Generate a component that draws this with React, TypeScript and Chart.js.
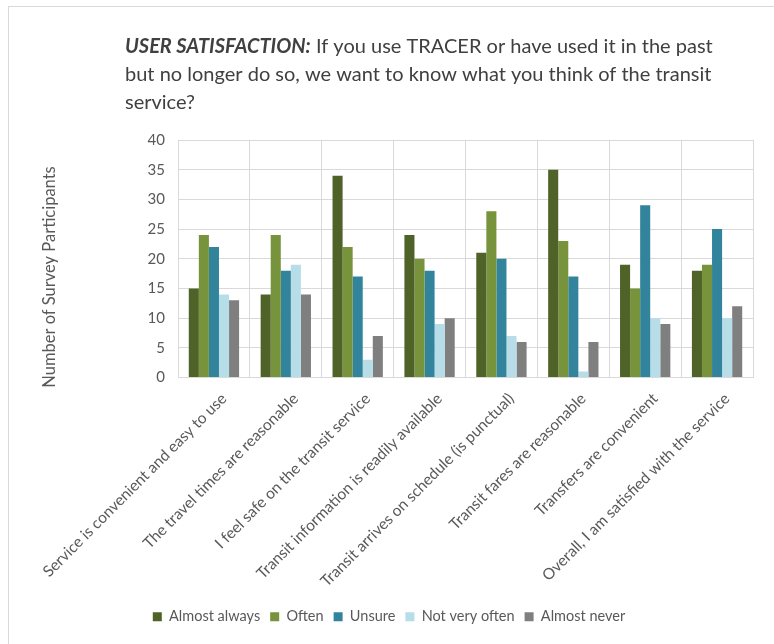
import React, { useEffect, useRef } from "react";
import { Chart, registerables } from "chart.js";

Chart.register(...registerables);

const categories = [
  "Service is convenient and easy to use",
  "The travel times are reasonable",
  "I feel safe on the transit service",
  "Transit information is readily available",
  "Transit arrives on schedule (is punctual)",
  "Transit fares are reasonable",
  "Transfers are convenient",
  "Overall, I am satisfied with the service",
];

const seriesNames = ["Almost always", "Often", "Unsure", "Not very often", "Almost never"];
const almostAlways = [15, 14, 34, 24, 21, 35, 19, 18];
const often = [24, 24, 22, 20, 28, 23, 15, 19];
const unsure = [22, 18, 17, 18, 20, 17, 29, 25];
const notVeryOften = [14, 19, 3, 9, 7, 1, 10, 10];
const almostNever = [13, 14, 7, 10, 6, 6, 9, 12];
const seriesColors = ["#4f6228", "#77933c", "#31849b", "#b7dee8", "#7f7f7f"];

const titleBold = "USER SATISFACTION:";
const titleLines = [
  " If you use TRACER or have used it in the past",
  "but no longer do so, we want to know what you think of the transit",
  "service?",
];
const yAxisTitle = "Number of Survey Participants";
const yTicks = { min: 0, max: 40, step: 5 };

const FONT = "Lato, 'Open Sans', sans-serif";
const TEXT = "#595959";

const textPlugin = {
  id: "customText",
  afterDraw(chart: any) {
    const ctx = chart.ctx;
    ctx.save();
    ctx.fillStyle = "#404040";
    ctx.textBaseline = "alphabetic";
    ctx.textAlign = "left";
    const x0 = 125;
    const base = 53;
    const lh = 28;
    ctx.font = `italic bold 20px ${FONT}`;
    ctx.fillText(titleBold, x0, base);
    const w = ctx.measureText(titleBold).width;
    ctx.font = `20px ${FONT}`;
    ctx.fillText(titleLines[0], x0 + w, base);
    for (let i = 1; i < titleLines.length; i++) {
      ctx.fillText(titleLines[i], x0, base + lh * i);
    }
    // y axis title
    ctx.translate(50, 277);
    ctx.rotate(-Math.PI / 2);
    ctx.textAlign = "center";
    ctx.textBaseline = "middle";
    ctx.fillStyle = TEXT;
    ctx.font = `16.5px ${FONT}`;
    ctx.fillText(yAxisTitle, 0, 0);
    ctx.restore();
  },
};

export default function App() {
  const ref = useRef<HTMLCanvasElement | null>(null);
  useEffect(() => {
    if (!ref.current) return;
    const values = [almostAlways, often, unsure, notVeryOften, almostNever];
    const chart = new Chart(ref.current, {
      type: "bar",
      data: {
        labels: categories,
        datasets: seriesNames.map((name, i) => ({
          label: name,
          data: values[i],
          backgroundColor: seriesColors[i],
          borderWidth: 0,
          barPercentage: 1,
          categoryPercentage: 0.7,
        })),
      },
      options: {
        animation: false,
        responsive: false,
        maintainAspectRatio: false,
        layout: { padding: { left: 25, right: 21, top: 140, bottom: 10 } },
        plugins: {
          title: { display: false },
          tooltip: { enabled: false },
          legend: {
            position: "bottom",
            labels: {
              boxWidth: 9,
              boxHeight: 9,
              padding: 10,
              color: TEXT,
              font: { family: FONT, size: 14.5 },
            },
          },
        },
        scales: {
          x: {
            grid: { color: "#d9d9d9", drawTicks: false, offset: true },
            border: { color: "#d9d9d9" },
            ticks: {
              color: TEXT,
              font: { family: FONT, size: 15.5 },
              minRotation: 45,
              maxRotation: 45,
              autoSkip: false,
              padding: 12,
              labelOffset: 10,
            },
            afterFit(scale: any) {
              scale.height = 222;
            },
          },
          y: {
            min: yTicks.min,
            max: yTicks.max,
            grid: { color: "#d9d9d9", drawTicks: false },
            border: { color: "#d9d9d9" },
            ticks: {
              stepSize: yTicks.step,
              color: TEXT,
              font: { family: FONT, size: 15 },
              padding: 13,
            },
            afterFit(scale: any) {
              scale.width = 153;
            },
          },
        },
      },
      plugins: [textPlugin],
    });
    return () => chart.destroy();
  }, []);

  return (
    <div style={{ position: "absolute", left: 0, top: 0, width: 774, height: 644, background: "#fff" }}>
      <div
        style={{
          position: "absolute",
          left: 8,
          top: 6,
          width: 766,
          height: 638,
          borderLeft: "1px solid #d9d9d9",
          borderTop: "1px solid #d9d9d9",
          boxSizing: "border-box",
        }}
      />
      <canvas ref={ref} width={774} height={644} style={{ position: "absolute", left: 0, top: 0 }} />
    </div>
  );
}
